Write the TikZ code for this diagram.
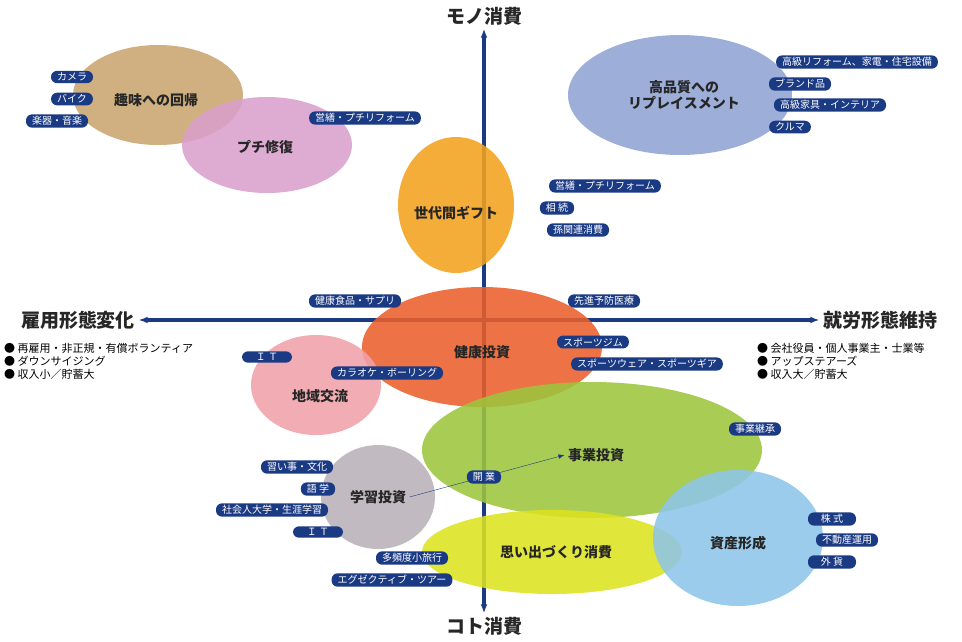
\documentclass[tikz,border=0pt]{standalone}
\usepackage{fontspec}
\setmainfont{Noto Sans CJK JP}
\usetikzlibrary{arrows.meta}
\definecolor{navy}{HTML}{1B3A84}
\tikzset{
  tag/.style={fill=navy, text=white, rounded corners=6pt, inner sep=2pt, inner xsep=6pt, font=\fontsize{10}{12}\selectfont},
  blob/.style={opacity=0.88},
  blabel/.style={font=\fontsize{14}{16}\selectfont\bfseries, text=black!85, align=center},
  axlabel/.style={font=\fontsize{19}{21}\selectfont\bfseries, text=black!85},
  note/.style={font=\fontsize{11}{13}\selectfont, align=left, anchor=north west, inner sep=0pt}
}
\begin{document}
\begin{tikzpicture}[x=1pt, y=-1pt]
    \useasboundingbox (0,0) rectangle (962,641);
    % axes
    \node[axlabel] (mono) at (484,16) {モノ消費};
    \node[axlabel] (koto) at (484,626) {コト消費};
    \node[axlabel] (koyou) at (78,320) {雇用形態変化};
    \node[axlabel] (shurou) at (880,320) {就労形態維持};
    \draw[navy, line width=4pt, {Latex[length=9pt]}-{Latex[length=9pt]}] (mono.south) -- (koto.north);
    \draw[navy, line width=4pt, {Latex[length=9pt]}-{Latex[length=9pt]}] (koyou.east) -- (shurou.west);
    % ellipses
    \fill[blob, color={rgb,255:red,201;green,165;blue,110}] (158,95) ellipse (85 and 50);
    \fill[blob, color={rgb,255:red,217;green,160;blue,204}] (267,145) ellipse (85 and 48);
    \fill[blob, color={rgb,255:red,143;green,163;blue,212}] (680,95) ellipse (112 and 60);
    \fill[blob, color={rgb,255:red,244;green,162;blue,30}] (456,205) ellipse (58 and 68);
    \fill[blob, color={rgb,255:red,234;green,95;blue,43}] (482,347) ellipse (120 and 60);
    \fill[blob, color={rgb,255:red,240;green,160;blue,168}] (316,385) ellipse (65 and 50);
    \fill[blob, color={rgb,255:red,184;green,178;blue,184}] (378,497) ellipse (57 and 52);
    \fill[blob, color={rgb,255:red,157;green,198;blue,60}] (592,450) ellipse (170 and 68);
    \fill[blob, color={rgb,255:red,221;green,227;blue,31}] (552,552) ellipse (130 and 42);
    \fill[blob, color={rgb,255:red,142;green,197;blue,232}] (738,538) ellipse (85 and 68);
    % labels
    \node[blabel] (shumi) at (156,100) {趣味への回帰};
    \node[blabel] (puchi) at (265,147) {プチ修復};
    \node[blabel] (kohin) at (684,95) {高品質への\\リプレイスメント};
    \node[blabel] (sedai) at (456,213) {世代間ギフト};
    \node[blabel] (kenko) at (482,352) {健康投資};
    \node[blabel] (chiiki) at (320,396) {地域交流};
    \node[blabel] (jigyo) at (596,455) {事業投資};
    \node[blabel] (gaku) at (378,497) {学習投資};
    \node[blabel] (omoide) at (556,552) {思い出づくり消費};
    \node[blabel] (shisan) at (738,543) {資産形成};
    \draw[navy, thin, -{Latex[length=6pt]}] (gaku.east) -- (jigyo.west);
    % tags
    \node[tag] (t1) at (72,77) {カメラ};
    \node[tag] (t2) at (72,99) {バイク};
    \node[tag] (t3) at (57,121) {楽器・音楽};
    \node[tag] (t4) at (365,118) {営繕・プチリフォーム};
    \node[tag] (t5) at (857,62) {高級リフォーム、家電・住宅設備};
    \node[tag] (t6) at (800,84) {ブランド品};
    \node[tag] (t7) at (830,105) {高級家具・インテリア};
    \node[tag] (t8) at (790,127) {クルマ};
    \node[tag] (t9) at (605,186) {営繕・プチリフォーム};
    \node[tag] (t10) at (557,208) {相\ 続};
    \node[tag] (t11) at (578,230) {孫関連消費};
    \node[tag] (t12) at (355,301) {健康食品・サプリ};
    \node[tag] (t13) at (604,301) {先進予防医療};
    \node[tag] (t14) at (593,342) {スポーツジム};
    \node[tag] (t15) at (647,364) {スポーツウェア・スポーツギア};
    \node[tag, minimum width=50pt] (t16) at (267,357) {Ｉ\ Ｔ};
    \node[tag] (t17) at (387,373) {カラオケ・ボーリング};
    \node[tag] (t18) at (755,429) {事業継承};
    \node[tag] (t19) at (297,467) {習い事・文化};
    \node[tag] (t20) at (318,489) {語\ 学};
    \node[tag] (t21) at (272,510) {社会人大学・生涯学習};
    \node[tag, minimum width=50pt] (t22) at (318,532) {Ｉ\ Ｔ};
    \node[tag] (t23) at (484,477) {開\ 業};
    \node[tag] (t24) at (412,558) {多頻度小旅行};
    \node[tag] (t25) at (392,580) {エグゼクティブ・ツアー};
    \node[tag, minimum width=48pt] (t26) at (832,519) {株\ 式};
    \node[tag] (t27) at (847,540) {不動産運用};
    \node[tag, minimum width=48pt] (t28) at (832,562) {外\ 貨};
    % notes
    \node[note] (left) at (4,343) {● 再雇用・非正規・有償ボランティア\\● ダウンサイジング\\● 収入小／貯蓄大};
    \node[note] (right) at (757,343) {● 会社役員・個人事業主・士業等\\● アップステアーズ\\● 収入大／貯蓄大};
\end{tikzpicture}
\end{document}
